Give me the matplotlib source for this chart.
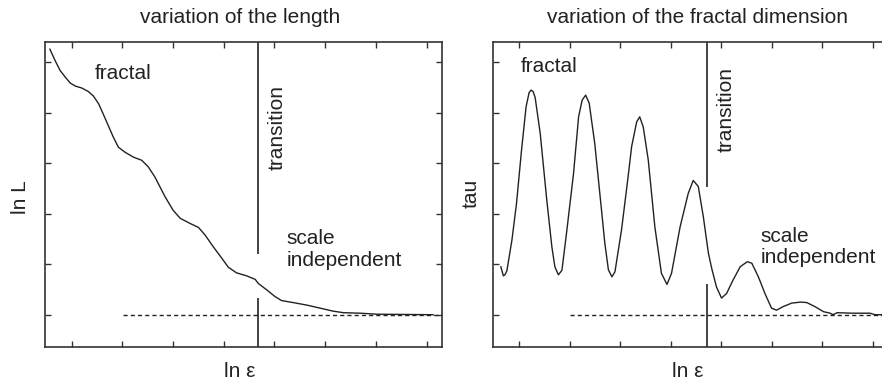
import matplotlib
matplotlib.use("Agg")
import matplotlib.pyplot as plt

plt.rcParams['font.family'] = ['Liberation Sans', 'DejaVu Sans']

# left panel: ln L against ln eps
len_x = [0.57, 0.67, 0.77, 0.87, 0.97, 1.07, 1.20, 1.33, 1.43, 1.53, 1.62, 1.72,
         1.82, 1.92, 2.05, 2.22, 2.38, 2.51, 2.64, 2.84, 3.00, 3.14, 3.33, 3.50,
         3.63, 3.79, 3.96, 4.09, 4.25, 4.45, 4.62, 4.68, 4.85, 5.01, 5.14, 5.37,
         5.64, 5.90, 6.16, 6.36, 6.69, 7.02, 8.13]
len_y = [5.26, 5.04, 4.84, 4.71, 4.59, 4.53, 4.49, 4.42, 4.33, 4.18, 3.98, 3.75,
         3.52, 3.32, 3.22, 3.12, 3.06, 2.93, 2.73, 2.34, 2.07, 1.91, 1.81, 1.73,
         1.58, 1.35, 1.12, 0.94, 0.83, 0.77, 0.70, 0.62, 0.49, 0.36, 0.28, 0.24,
         0.19, 0.13, 0.07, 0.04, 0.03, 0.01, 0.00]

# right panel: tau against ln eps
tau_x = [0.64, 0.69, 0.72, 0.76, 0.86, 0.95, 1.05, 1.14, 1.20, 1.24, 1.28, 1.32,
         1.42, 1.55, 1.65, 1.71, 1.78, 1.85, 1.94, 2.08, 2.18, 2.25, 2.32, 2.39,
         2.50, 2.64, 2.70, 2.77, 2.84, 2.90, 3.03, 3.16, 3.23, 3.33, 3.39, 3.46,
         3.56, 3.69, 3.82, 3.93, 4.02, 4.19, 4.35, 4.45, 4.55, 4.65, 4.75, 4.82,
         4.91, 5.01, 5.11, 5.24, 5.38, 5.52, 5.61, 5.74, 5.87, 6.00, 6.10, 6.23,
         6.40, 6.58, 6.70, 6.86, 7.03, 7.16, 7.22, 7.30, 7.60, 7.95, 8.05, 8.35]
tau_y = [0.95, 0.77, 0.79, 0.87, 1.48, 2.20, 3.26, 4.12, 4.40, 4.45, 4.42, 4.30,
         3.59, 2.27, 1.35, 0.95, 0.79, 0.88, 1.61, 2.80, 3.92, 4.25, 4.35, 4.19,
         3.39, 2.01, 1.41, 0.89, 0.75, 0.85, 1.68, 2.73, 3.33, 3.82, 3.92, 3.72,
         3.06, 1.74, 0.82, 0.60, 0.82, 1.74, 2.40, 2.66, 2.54, 1.94, 1.22, 0.90,
         0.55, 0.33, 0.42, 0.69, 0.95, 1.05, 1.02, 0.75, 0.42, 0.13, 0.09, 0.16,
         0.23, 0.25, 0.24, 0.16, 0.06, 0.03, 0.00, 0.04, 0.03, 0.03, 0.00, 0.00]

x_ticks = [1, 2, 3, 4, 5, 6, 7, 8]
y_ticks = [0, 1, 2, 3, 4, 5]

# transition line (x, top part from, bottom part to) and dashed asymptote start
left_trans = (4.68, 1.20, 0.33)
right_trans = (4.72, 2.52, 0.60)
left_dash_start = 2.02
right_dash_start = 2.01

fig = plt.figure(figsize=(8.82, 3.84), dpi=100)
ax1 = fig.add_axes([0.0510, 0.0971, 0.4501, 0.7927])
ax2 = fig.add_axes([0.5593, 0.0971, 0.4501, 0.7927])

ylim = (-0.634, 5.396)
ink = '#222222'
fs = 15

def setup(ax, xlim):
    ax.set_xlim(*xlim)
    ax.set_ylim(*ylim)
    ax.set_xticks(x_ticks)
    ax.set_yticks(y_ticks)
    ax.tick_params(direction='in', length=4, width=1.0, color='#333333',
                   top=True, right=True, labelbottom=False, labelleft=False)
    for s in ax.spines.values():
        s.set_linewidth(1.2)
        s.set_color('#333333')

setup(ax1, (0.473, 8.304))
setup(ax2, (0.491, 8.352))

# left panel
ax1.plot(len_x, len_y, color=ink, lw=1.0)
ax1.plot([left_dash_start, ax1.get_xlim()[1]], [0, 0], color=ink, lw=1.0,
         linestyle=(0, (3, 2.2)))
tx, top_end, bot_end = left_trans
ax1.vlines(tx, top_end, ylim[1], color=ink, lw=1.2)
ax1.vlines(tx, ylim[0], bot_end, color=ink, lw=1.2)
ax1.text(1.45, 4.66, 'fractal', fontsize=fs, color=ink, va='baseline')
ax1.text(5.05, 2.86, 'transition', fontsize=fs, color=ink, rotation=90,
         ha='center', va='bottom')
ax1.text(5.24, 0.97, 'scale\nindependent', fontsize=fs, color=ink,
         va='baseline', linespacing=1.15)
ax1.text(0.491, 1.063, 'variation of the length', fontsize=fs, color=ink,
         ha='center', va='baseline', transform=ax1.transAxes)
ax1.text(-0.062, 0.492, 'ln L', fontsize=fs, color=ink, rotation=90,
         ha='center', va='center', transform=ax1.transAxes)
ax1.text(0.491, -0.083, 'ln ε', fontsize=fs, color=ink,
         ha='center', va='center', transform=ax1.transAxes)

# right panel
ax2.plot(tau_x, tau_y, color=ink, lw=1.0)
ax2.plot([right_dash_start, ax2.get_xlim()[1]], [0, 0], color=ink, lw=1.0,
         linestyle=(0, (3, 2.2)))
tx, top_end, bot_end = right_trans
ax2.vlines(tx, top_end, ylim[1], color=ink, lw=1.2)
ax2.vlines(tx, ylim[0], bot_end, color=ink, lw=1.2)
ax2.text(1.04, 4.81, 'fractal', fontsize=fs, color=ink, va='baseline')
ax2.text(5.10, 3.23, 'transition', fontsize=fs, color=ink, rotation=90,
         ha='center', va='bottom')
ax2.text(5.79, 1.02, 'scale\nindependent', fontsize=fs, color=ink,
         va='baseline', linespacing=1.15)
ax2.text(0.514, 1.063, 'variation of the fractal dimension', fontsize=fs,
         color=ink, ha='center', va='baseline', transform=ax2.transAxes)
ax2.text(-0.055, 0.505, 'tau', fontsize=fs, color=ink, rotation=90,
         ha='center', va='center', transform=ax2.transAxes)
ax2.text(0.49, -0.083, 'ln ε', fontsize=fs, color=ink,
         ha='center', va='center', transform=ax2.transAxes)

fig.savefig('out.png', dpi=100)
